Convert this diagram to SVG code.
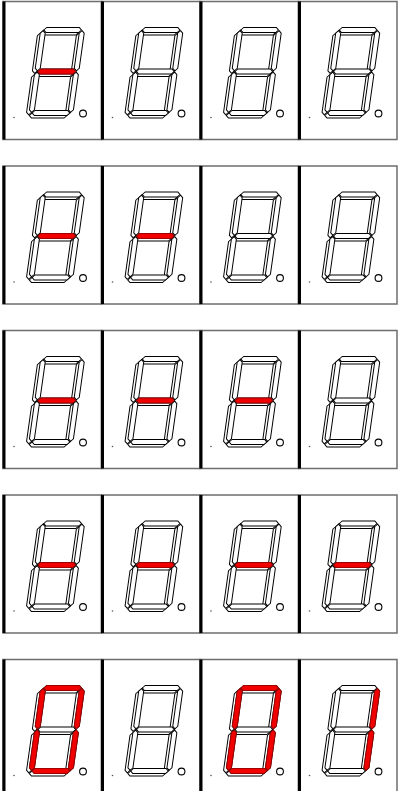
<svg xmlns="http://www.w3.org/2000/svg" xmlns:xlink="http://www.w3.org/1999/xlink" width="399" height="791" viewBox="0 0 399 791">
<style>
.box{fill:#fff;stroke:#6e6e6e;stroke-width:1.5}
.lb{stroke:#000;stroke-width:3}
.sh{fill:none;stroke:#000;stroke-width:1}
.seg{fill:#fff;stroke:#000;stroke-width:1}
.on{fill:#f00000;stroke:#a00000;stroke-width:1}
.dp{fill:#fff;stroke:#000;stroke-width:1.1}
.dot{fill:#555}
</style>
<defs>
<path id="sa" d="M3.2,2.5 L5.7,0 L38.3,0 L40.8,2.5 L38.3,5 L5.7,5 Z"/>
<path id="sg" d="M3.2,44 L5.7,41.5 L38.3,41.5 L40.8,44 L38.3,46.5 L5.7,46.5 Z"/>
<path id="sd" d="M3.2,85.5 L5.7,83 L38.3,83 L40.8,85.5 L38.3,88 L5.7,88 Z"/>
<path id="sf" d="M2.5,3.2 L5,5.7 L5,40.8 L2.5,43.3 L0,40.8 L0,5.7 Z"/>
<path id="sb" d="M41.5,3.2 L44,5.7 L44,40.8 L41.5,43.3 L39,40.8 L39,5.7 Z"/>
<path id="se" d="M2.5,44.7 L5,47.2 L5,82.3 L2.5,84.8 L0,82.3 L0,47.2 Z"/>
<path id="sc" d="M41.5,44.7 L44,47.2 L44,82.3 L41.5,84.8 L39,82.3 L39,47.2 Z"/>
<g id="digit">
<g class="sh" transform="translate(-2.5,2.5)">
<use href="#sa"/><use href="#sb"/><use href="#sc"/><use href="#sd"/><use href="#se"/><use href="#sf"/><use href="#sg"/>
</g>
<g class="seg">
<use href="#sa"/><use href="#sb"/><use href="#sc"/><use href="#sd"/><use href="#se"/><use href="#sf"/><use href="#sg"/>
</g>
</g>
<g id="cell">
<rect class="box" x="0" y="0" width="98.5" height="138"/>
<line class="lb" x1="1" y1="0" x2="1" y2="138"/>
<circle class="dp" cx="80" cy="112" r="3.4"/>
<circle class="dot" cx="11" cy="116" r="0.8"/>
</g>
</defs>
<rect x="0" y="0" width="399" height="791" fill="#fff"/>

<g id="r1c1" transform="translate(3,1.5)"><use href="#cell"/><g transform="translate(38,26) skewX(-8)"><use href="#digit"/><use href="#sg" class="on"/></g></g>
<g id="r1c2" transform="translate(101.5,1.5)"><use href="#cell"/><g transform="translate(38,26) skewX(-8)"><use href="#digit"/></g></g>
<g id="r1c3" transform="translate(200,1.5)"><use href="#cell"/><g transform="translate(38,26) skewX(-8)"><use href="#digit"/></g></g>
<g id="r1c4" transform="translate(298.5,1.5)"><use href="#cell"/><g transform="translate(38,26) skewX(-8)"><use href="#digit"/></g></g>

<g id="r2c1" transform="translate(3,166)"><use href="#cell"/><g transform="translate(38,26) skewX(-8)"><use href="#digit"/><use href="#sg" class="on"/></g></g>
<g id="r2c2" transform="translate(101.5,166)"><use href="#cell"/><g transform="translate(38,26) skewX(-8)"><use href="#digit"/><use href="#sg" class="on"/></g></g>
<g id="r2c3" transform="translate(200,166)"><use href="#cell"/><g transform="translate(38,26) skewX(-8)"><use href="#digit"/></g></g>
<g id="r2c4" transform="translate(298.5,166)"><use href="#cell"/><g transform="translate(38,26) skewX(-8)"><use href="#digit"/></g></g>

<g id="r3c1" transform="translate(3,330.5)"><use href="#cell"/><g transform="translate(38,26) skewX(-8)"><use href="#digit"/><use href="#sg" class="on"/></g></g>
<g id="r3c2" transform="translate(101.5,330.5)"><use href="#cell"/><g transform="translate(38,26) skewX(-8)"><use href="#digit"/><use href="#sg" class="on"/></g></g>
<g id="r3c3" transform="translate(200,330.5)"><use href="#cell"/><g transform="translate(38,26) skewX(-8)"><use href="#digit"/><use href="#sg" class="on"/></g></g>
<g id="r3c4" transform="translate(298.5,330.5)"><use href="#cell"/><g transform="translate(38,26) skewX(-8)"><use href="#digit"/></g></g>

<g id="r4c1" transform="translate(3,495)"><use href="#cell"/><g transform="translate(38,26) skewX(-8)"><use href="#digit"/><use href="#sg" class="on"/></g></g>
<g id="r4c2" transform="translate(101.5,495)"><use href="#cell"/><g transform="translate(38,26) skewX(-8)"><use href="#digit"/><use href="#sg" class="on"/></g></g>
<g id="r4c3" transform="translate(200,495)"><use href="#cell"/><g transform="translate(38,26) skewX(-8)"><use href="#digit"/><use href="#sg" class="on"/></g></g>
<g id="r4c4" transform="translate(298.5,495)"><use href="#cell"/><g transform="translate(38,26) skewX(-8)"><use href="#digit"/><use href="#sg" class="on"/></g></g>

<g id="r5c1" transform="translate(3,659.5)"><use href="#cell"/><g transform="translate(38,26) skewX(-8)"><use href="#digit"/><g class="on"><use href="#sa"/><use href="#sb"/><use href="#sc"/><use href="#sd"/><use href="#se"/><use href="#sf"/></g></g></g>
<g id="r5c2" transform="translate(101.5,659.5)"><use href="#cell"/><g transform="translate(38,26) skewX(-8)"><use href="#digit"/></g></g>
<g id="r5c3" transform="translate(200,659.5)"><use href="#cell"/><g transform="translate(38,26) skewX(-8)"><use href="#digit"/><g class="on"><use href="#sa"/><use href="#sb"/><use href="#sc"/><use href="#sd"/><use href="#se"/><use href="#sf"/></g></g></g>
<g id="r5c4" transform="translate(298.5,659.5)"><use href="#cell"/><g transform="translate(38,26) skewX(-8)"><use href="#digit"/><g class="on"><use href="#sb"/><use href="#sc"/></g></g></g>
</svg>
